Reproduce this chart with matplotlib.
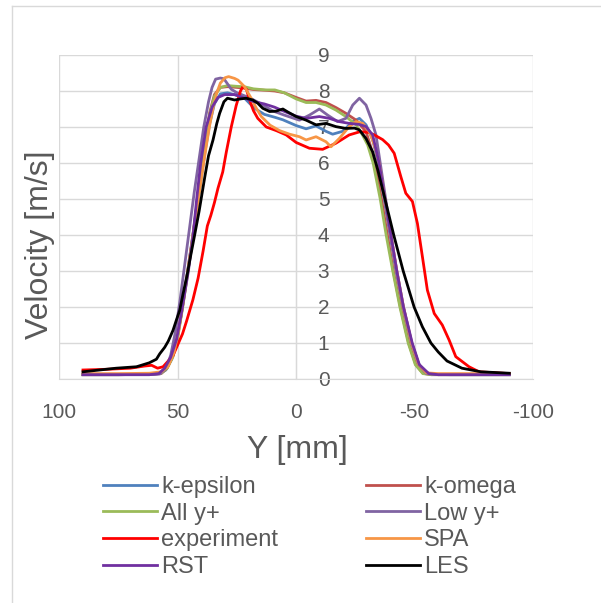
import matplotlib
matplotlib.use("Agg")
import matplotlib.pyplot as plt
from matplotlib.lines import Line2D

plt.rcParams['font.family'] = ['Liberation Sans', 'DejaVu Sans']
plt.rcParams['axes.unicode_minus'] = False

# Datos: posicion Y [mm] y velocidad [m/s]
x_keps = [90, 75, 62, 57.5, 55, 52.5, 50.5, 48.5, 46.5, 44.5, 42.5, 40.5, 38.5, 36.5, 34.5, 32, 29, 25, 21.8, 17.6,
          13.4, 9, 5.6, 0, -4.2, -8.4, -12.6, -15.4, -19.6, -23.9, -26.7, -29.5, -32.3, -34.5, -37, -39.5, -42, -45,
          -48.5, -51.5, -54, -57, -65, -90]
v_keps = [0.12, 0.12, 0.13, 0.15, 0.25, 0.55, 1.05, 1.8, 2.7, 3.6, 4.5, 5.4, 6.3, 7.1, 7.65, 7.92, 7.95, 7.88, 7.8, 7.52,
          7.35, 7.27, 7.2, 7.04, 6.95, 7.03, 6.88, 6.8, 6.88, 7.15, 7.24, 7.06, 6.65, 6.05, 5.05, 4.05, 3.05, 2.05,
          1.05, 0.45, 0.2, 0.13, 0.12, 0.12]

x_komega = [90, 75, 62, 57, 54.5, 52, 50, 48, 46, 44, 42, 40, 38.3, 36.5, 34.5, 32, 29, 25, 22, 18,
            13, 9, 5, 0, -4.2, -8.4, -12.6, -16.8, -21, -25.3, -29.5, -31.5, -33.5, -36, -38.5, -41, -44, -47.5,
            -50.5, -53.5, -57, -65, -90]
v_komega = [0.12, 0.12, 0.13, 0.15, 0.3, 0.65, 1.2, 2.0, 2.9, 3.8, 4.8, 5.7, 6.6, 7.4, 7.9, 8.1, 8.12, 8.1, 8.08, 8.04,
            8.02, 8.0, 7.95, 7.82, 7.72, 7.74, 7.68, 7.54, 7.38, 7.19, 6.87, 6.45, 5.9, 5.0, 4.0, 3.0, 2.0, 1.0,
            0.4, 0.16, 0.12, 0.12, 0.12]

x_ally = [90, 75, 62, 57, 54.5, 52, 50, 48, 46, 44, 42, 40, 38.3, 36.5, 34.5, 32, 29, 25, 22, 18,
          13, 9, 5, 0, -4.2, -8.4, -12.6, -16.8, -21, -25.3, -28, -30.2, -32.5, -35.5, -38, -40.8, -43.8, -47.3,
          -50.3, -53.5, -57, -65, -90]
v_ally = [0.12, 0.12, 0.13, 0.16, 0.3, 0.62, 1.15, 1.95, 2.85, 3.75, 4.75, 5.65, 6.55, 7.35, 7.85, 8.1, 8.15, 8.13, 8.12,
          8.06, 8.03, 8.03, 7.95, 7.78, 7.68, 7.68, 7.61, 7.47, 7.29, 7.06, 6.78, 6.5, 6.0, 5.0, 4.0, 3.0, 2.0, 1.0,
          0.4, 0.15, 0.12, 0.12, 0.12]

x_lowy = [90, 75, 62, 57.5, 55, 53, 51, 49, 47, 45, 43, 41, 39, 37, 35.5, 34, 32, 30.5, 29, 27.4,
          25, 20, 15, 10, 5, 0, -1.4, -5.6, -9.8, -13.3, -17.5, -21, -23.9, -26.7, -29.5, -31.6, -33.7, -35.5,
          -37.8, -40, -42.5, -45.3, -48.8, -51.8, -55, -60, -90]
v_lowy = [0.12, 0.12, 0.12, 0.14, 0.3, 0.65, 1.3, 2.2, 3.2, 4.2, 5.2, 6.1, 7.0, 7.7, 8.1, 8.33, 8.36, 8.34, 8.2, 8.05,
          7.95, 7.82, 7.65, 7.45, 7.33, 7.22, 7.19, 7.33, 7.5, 7.33, 7.15, 7.24, 7.61, 7.8, 7.61, 7.24, 6.78, 6.0,
          5.0, 4.0, 3.0, 2.0, 1.0, 0.4, 0.15, 0.12, 0.12]

x_exp = [90, 80, 70, 64, 61, 58.5, 56.2, 54, 52, 50, 48, 46.3, 43.6, 41.4, 39.3, 37.5, 36, 34.5, 33, 31,
         29.5, 27.4, 25.3, 23.5, 22.5, 21, 19.7, 18, 16.2, 12.6, 8.4, 4.2, 0, -5.6, -11.2, -16.8, -22.4, -27,
         -30.5, -33, -36.5, -39, -41.4, -44.2, -46.3, -49.1, -51.2, -53.3, -55.4, -58.3, -61.7, -64.6, -67.4,
         -73, -77.2, -90]
v_exp = [0.25, 0.27, 0.3, 0.36, 0.38, 0.3, 0.34, 0.5, 0.65, 0.95, 1.25, 1.6, 2.2, 2.8, 3.55, 4.25, 4.55, 4.9, 5.3, 5.75,
         6.3, 7.0, 7.6, 8.0, 8.12, 8.05, 7.75, 7.45, 7.24, 7.0, 6.9, 6.78, 6.57, 6.41, 6.38, 6.55, 6.78, 6.87,
         6.85, 6.78, 6.65, 6.5, 6.27, 5.62, 5.16, 4.93, 4.32, 3.4, 2.47, 1.82, 1.5, 1.08, 0.62,
         0.34, 0.2, 0.15]

x_spa = [90, 75, 62, 57, 54, 51.5, 49.5, 47.5, 45.5, 43.5, 41.5, 39.5, 38, 36.5, 35, 33.5, 32, 30, 28.5, 26,
         24.5, 21.8, 19, 16.8, 14.7, 11, 7, 2.8, -1.4, -4.2, -8.4, -12.6, -14.7, -18.2, -22.4, -25.3, -28.1,
         -30.9, -33, -35, -37.5, -40, -42.5, -45.3, -48.8, -51.8, -55, -60, -90]
v_spa = [0.15, 0.15, 0.16, 0.2, 0.35, 0.75, 1.4, 2.2, 3.1, 4.0, 4.9, 5.8, 6.45, 7.05, 7.55, 7.95, 8.22, 8.37, 8.4, 8.35,
         8.3, 8.12, 7.8, 7.52, 7.29, 7.05, 6.9, 6.8, 6.73, 6.64, 6.73, 6.59, 6.45, 6.68, 7.01, 7.15, 7.1,
         6.87, 6.5, 6.0, 5.0, 4.0, 3.0, 2.0, 1.0, 0.4, 0.17, 0.15, 0.15]

x_rst = [90, 75, 62, 58, 55.5, 53, 50.5, 48.5, 47, 45.5, 43.5, 42, 40.3, 38, 35.5, 33, 30.2, 26, 21.8, 17.6,
         13.4, 9.1, 5.6, 0, -4.2, -9.8, -14, -18.2, -22.4, -26.7, -29.5, -32.3, -35, -37.5, -40, -42.5, -45.3,
         -49, -52, -56, -60, -90]
v_rst = [0.12, 0.12, 0.12, 0.15, 0.3, 0.6, 1.1, 1.8, 2.4, 3.0, 4.0, 5.0, 6.0, 7.0, 7.55, 7.82, 7.9, 7.9, 7.8, 7.7,
         7.64, 7.55, 7.45, 7.3, 7.24, 7.29, 7.24, 7.15, 7.1, 7.07, 7.01, 6.78, 6.0, 5.0, 4.0, 3.0, 2.0,
         1.0, 0.4, 0.15, 0.12, 0.12]

x_les = [90, 76, 67.4, 62, 59, 57.6, 55.5, 54, 52, 50.5, 49.2, 47.8, 46, 44.9, 43, 41, 38.6, 37, 35.1, 33.5,
         32.3, 30.5, 29, 26, 23.5, 21.1, 18.3, 16.2, 14.1, 11.2, 8.5, 5.6, 3.6, 0, -4.2, -8.4, -12.6, -16.8, -21,
         -24.6, -26.7, -29.5, -32.3, -34.5, -37.5, -41.2, -45.2, -49.8, -53.3, -56.9, -60, -63.7, -70, -78, -90]
v_les = [0.2, 0.3, 0.34, 0.45, 0.55, 0.7, 0.88, 1.05, 1.35, 1.65, 1.9, 2.35, 2.9, 3.3, 3.95, 4.65, 5.6, 6.2, 6.64, 7.1,
         7.38, 7.7, 7.8, 7.75, 7.78, 7.8, 7.75, 7.66, 7.52, 7.43, 7.44, 7.5, 7.42, 7.29, 7.19, 7.06, 7.1, 7.01, 6.96,
         6.97, 6.92, 6.68, 6.31, 5.8, 5.0, 4.0, 3.0, 2.0, 1.45, 1.0, 0.75, 0.5, 0.3, 0.2, 0.16]

series = [
    ("k-epsilon", x_keps, v_keps, "#4F81BD"),
    ("k-omega", x_komega, v_komega, "#C0504D"),
    ("All y+", x_ally, v_ally, "#9BBB59"),
    ("Low y+", x_lowy, v_lowy, "#8064A2"),
    ("experiment", x_exp, v_exp, "#FF0000"),
    ("SPA", x_spa, v_spa, "#F79646"),
    ("RST", x_rst, v_rst, "#7030A0"),
    ("LES", x_les, v_les, "#000000"),
]

x_ticks = [100, 50, 0, -50, -100]
y_ticks = [0, 1, 2, 3, 4, 5, 6, 7, 8, 9]

fig = plt.figure(figsize=(6.01, 6.03), dpi=100)
ax = fig.add_axes([59.3 / 601, 1 - 379 / 603, (533 - 59.3) / 601, (379 - 55) / 603])

handles = {}
for name, xs, vs, col in series:
    ln, = ax.plot(xs, vs, color=col, lw=2.0, label=name, solid_joinstyle="round", zorder=3)
    handles[name] = ln

ax.set_xlim(100, -100)
ax.set_ylim(0, 9)
ax.set_xticks(x_ticks)
ax.set_yticks(y_ticks)
ax.grid(True, color="#D9D9D9", lw=1.0, zorder=0)
ax.set_axisbelow(True)

# Eje vertical en Y = 0 con etiquetas a la derecha
for s in ["top", "left"]:
    ax.spines[s].set_visible(False)
ax.spines["right"].set_position(("data", 0))
ax.spines["right"].set_color("#D9D9D9")
ax.spines["bottom"].set_color("#D9D9D9")
ax.yaxis.tick_right()
ax.tick_params(axis="y", length=0, pad=15.5, labelsize=15, labelcolor="#595959")
ax.tick_params(axis="x", length=0, pad=17, labelsize=15, labelcolor="#595959")

ax.set_xlabel("Y [mm]", fontsize=23, color="#595959")
ax.xaxis.label.set_va("center")
ax.xaxis.set_label_coords(0.502, -0.219)
ax.set_ylabel("Velocity [m/s]", fontsize=23, color="#595959")
ax.yaxis.set_label_position("left")
ax.yaxis.label.set_va("center")
ax.yaxis.set_label_coords(-0.040, 0.414)

order = ["k-epsilon", "All y+", "experiment", "RST", "k-omega", "Low y+", "SPA", "LES"]
leg = fig.legend([handles[n] for n in order], order, ncol=2, loc="upper left",
                 bbox_to_anchor=(103 / 601, 1 - 476 / 603), frameon=False, fontsize=17,
                 handlelength=2.3, handletextpad=0.17, columnspacing=3.7, labelspacing=0.2,
                 borderpad=0, borderaxespad=0)
for t in leg.get_texts():
    t.set_color("#595959")

# Marco del area del grafico
fig.add_artist(Line2D([12 / 601, 12 / 601], [0, 1 - 6 / 603], transform=fig.transFigure, color="#D9D9D9", lw=1))
fig.add_artist(Line2D([12 / 601, 1], [1 - 6 / 603, 1 - 6 / 603], transform=fig.transFigure, color="#D9D9D9", lw=1))

fig.savefig("out.png", dpi=100)
